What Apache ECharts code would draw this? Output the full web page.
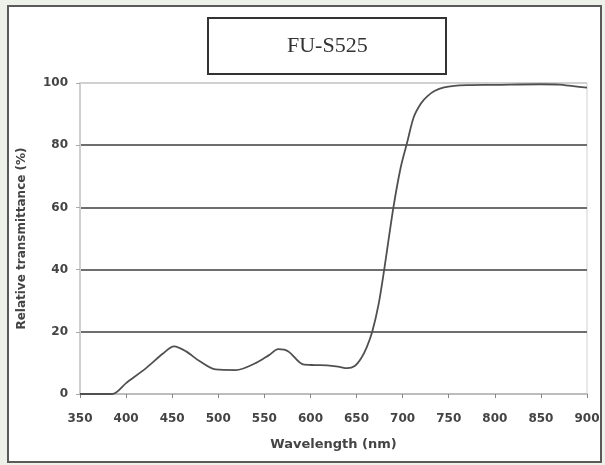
<!DOCTYPE html>
<html>
<head>
<meta charset="utf-8">
<script src="https://cdn.jsdelivr.net/npm/echarts@6/dist/echarts.min.js"></script>
<style>
  html, body { margin: 0; padding: 0; background: #eef1ea; }
  .wrap { position: relative; width: 605px; height: 465px; }
  .frame {
    position: absolute; left: 7px; top: 5px; width: 591px; height: 454px;
    border: 2px solid #5a5a5a; background: #fff;
  }
  #chart { position: absolute; left: 0; top: 0; width: 605px; height: 465px; }
</style>
</head>
<body>
<div class="wrap">
  <div class="frame"></div>
  <div id="chart"></div>
</div>
<script>
// spectrum
const wavelength = [350, 385, 400, 422, 440, 452, 465, 480, 497, 519, 541, 555, 565, 576, 592,
  605, 618, 630, 640, 648, 655, 661, 667, 674, 680, 690, 698, 705, 712, 720, 727,
  735, 745, 756, 770, 800, 850, 870, 885, 900]
const transmittance = [0, 0, 3.5, 8.4, 13, 15.3, 13.7, 10.5, 7.9, 7.7, 10, 12.5, 14.4, 13.7, 9.5,
  9.3, 9.2, 8.8, 8.3, 9, 11.5, 15, 20, 29, 40, 60, 73, 81, 89, 93.5, 95.8,
  97.5, 98.6, 99.1, 99.3, 99.4, 99.6, 99.5, 99, 98.5]
const yColors = ['#cfcfcf', '#6e6e6e', '#6e6e6e', '#6e6e6e', '#6e6e6e', '#d0d0d0']

const chart = echarts.init(document.getElementById('chart'))
const labelFont = { fontFamily: '"DejaVu Sans", Verdana, sans-serif', fontWeight: 'bold', color: '#444' }

chart.setOption({
  backgroundColor: 'transparent',
  animation: false,
  title: {
    text: 'FU-S525',
    left: 208,
    top: 18,
    padding: [17, 79],
    borderColor: '#333',
    borderWidth: 2,
    textStyle: { fontFamily: '"Liberation Serif", "Times New Roman", serif', fontWeight: 'normal', fontSize: 22, color: '#333' }
  },
  grid: { left: 80, right: 18, top: 83, bottom: 71, show: true, borderColor: '#d0d0d0', borderWidth: 1 },
  xAxis: {
    type: 'value', min: 350, max: 900, interval: 50,
    name: 'Wavelength (nm)', nameLocation: 'middle', nameGap: 44,
    nameTextStyle: { ...labelFont, fontSize: 13 },
    axisLine: { lineStyle: { color: '#bdbdbd', width: 2 } },
    axisTick: { show: true, length: 4, lineStyle: { color: '#888' } },
    axisLabel: { ...labelFont, fontSize: 12, margin: 19 },
    splitLine: { show: false }
  },
  yAxis: {
    type: 'value', min: 0, max: 100, interval: 20,
    name: 'Relative transmittance (%)', nameLocation: 'middle', nameGap: 52, nameRotate: 90,
    nameTextStyle: { ...labelFont, fontSize: 12 },
    axisLine: { show: true, lineStyle: { color: '#cfcfcf', width: 2 } },
    axisTick: { show: true, length: 4, lineStyle: { color: '#aaa' } },
    axisLabel: { ...labelFont, fontSize: 12, margin: 12 },
    splitLine: { show: true, lineStyle: { color: yColors, width: 2 } }
  },
  series: [{
    type: 'line',
    data: wavelength.map((w, i) => [w, transmittance[i]]),
    smooth: 0.3,
    showSymbol: false,
    lineStyle: { color: '#505050', width: 1.8 }
  }]
})
</script>
</body>
</html>
